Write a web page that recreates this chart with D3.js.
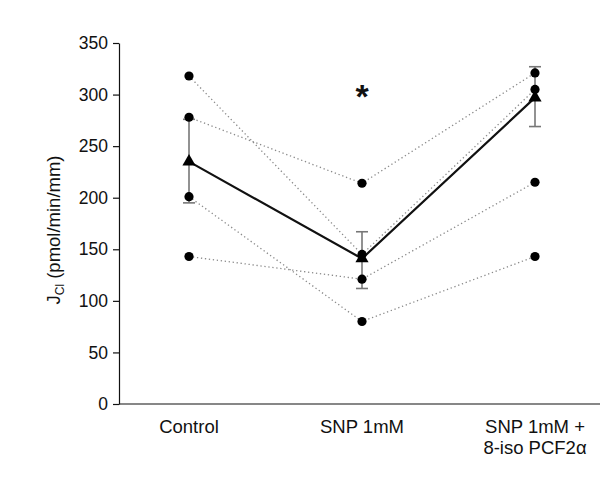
<!DOCTYPE html>
<html><head><meta charset="utf-8">
<script src="https://cdn.jsdelivr.net/npm/d3@7"></script>
<style>body{margin:0;background:#fff}svg{display:block}text{font-family:"Liberation Sans",Arial,sans-serif;fill:#111}</style>
</head><body>
<svg id="c" width="616" height="478"></svg>
<script>
const categories = ["Control", "SNP 1mM", "SNP 1mM +\n8-iso PCF2α"];
// individual subjects (dotted lines), one array per subject: [Control, SNP, SNP+iso]
const subject1 = [318, 145, 305];
const subject2 = [278, 214, 321];
const subject3 = [201, 80, 143];
const subject4 = [143, 121, 215];
const meanValues = [235, 141, 297];
const errUpper = [276, 167, 327];
const errLower = [195, 112, 269];
const yTicks = [0, 50, 100, 150, 200, 250, 300, 350];
const subjects = [subject1, subject2, subject3, subject4];

const svg = d3.select("#c");
const x = d3.scalePoint().domain(categories).range([189, 535]);
const y = d3.scaleLinear().domain([0, 350]).range([404, 43]);

// axes
const yAxis = svg.append("g").attr("transform", "translate(119,0)")
  .call(d3.axisLeft(y).tickValues(yTicks).tickSize(6).tickPadding(5).tickSizeOuter(0));
yAxis.select(".domain").attr("stroke", "#111").attr("stroke-width", 1.2);
yAxis.selectAll(".tick line").attr("stroke", "#111").attr("stroke-width", 1.2);
yAxis.selectAll(".tick text").style("font-size", "17.5px").attr("fill", "#111");

svg.append("line").attr("x1", 119).attr("x2", 600).attr("y1", y(0)).attr("y2", y(0))
  .attr("stroke", "#111").attr("stroke-width", 1.2);

// x labels
categories.forEach(c => {
  const lines = c.split("\n");
  const t = svg.append("text").attr("text-anchor", "middle").style("font-size", "18.5px");
  lines.forEach((l, i) => t.append("tspan").attr("x", x(c)).attr("y", 433 + i * 21).text(l));
});

// y label
const yl = svg.append("text").attr("transform", "translate(60,230) rotate(-90)")
  .attr("text-anchor", "middle").style("font-size", "18.5px");
yl.append("tspan").text("J");
yl.append("tspan").attr("dy", 4).style("font-size", "12px").text("Cl");
yl.append("tspan").attr("dy", -4).text(" (pmol/min/mm)");

// subject dotted lines
const line = d3.line().x((d, i) => x(categories[i])).y(d => y(d));
subjects.forEach(s => {
  svg.append("path").attr("d", line(s)).attr("fill", "none")
    .attr("stroke", "#8a8a8a").attr("stroke-width", 1.3).attr("stroke-dasharray", "1.3,2.7");
});

// error bars
categories.forEach((c, i) => {
  const g = svg.append("g").attr("stroke", "#777").attr("stroke-width", 1.6);
  g.append("line").attr("x1", x(c)).attr("x2", x(c)).attr("y1", y(errUpper[i])).attr("y2", y(errLower[i]));
  [errUpper[i], errLower[i]].forEach(v => g.append("line")
    .attr("x1", x(c) - 6).attr("x2", x(c) + 6).attr("y1", y(v)).attr("y2", y(v)));
});

// mean line
svg.append("path").attr("d", line(meanValues)).attr("fill", "none")
  .attr("stroke", "#111").attr("stroke-width", 2.2);

// subject dots
subjects.forEach(s => {
  s.forEach((v, i) => svg.append("circle").attr("cx", x(categories[i])).attr("cy", y(v))
    .attr("r", 4.6).attr("fill", "#000"));
});

// mean triangles
const tri = d3.symbol().type(d3.symbolTriangle).size(75);
meanValues.forEach((v, i) => svg.append("path").attr("d", tri())
  .attr("transform", `translate(${x(categories[i])},${y(v)})`).attr("fill", "#000"));

// asterisk
svg.append("text").attr("x", x(categories[1])).attr("y", 108).attr("text-anchor", "middle")
  .style("font-size", "34px").style("font-weight", "bold").text("*");
</script>
</body></html>
